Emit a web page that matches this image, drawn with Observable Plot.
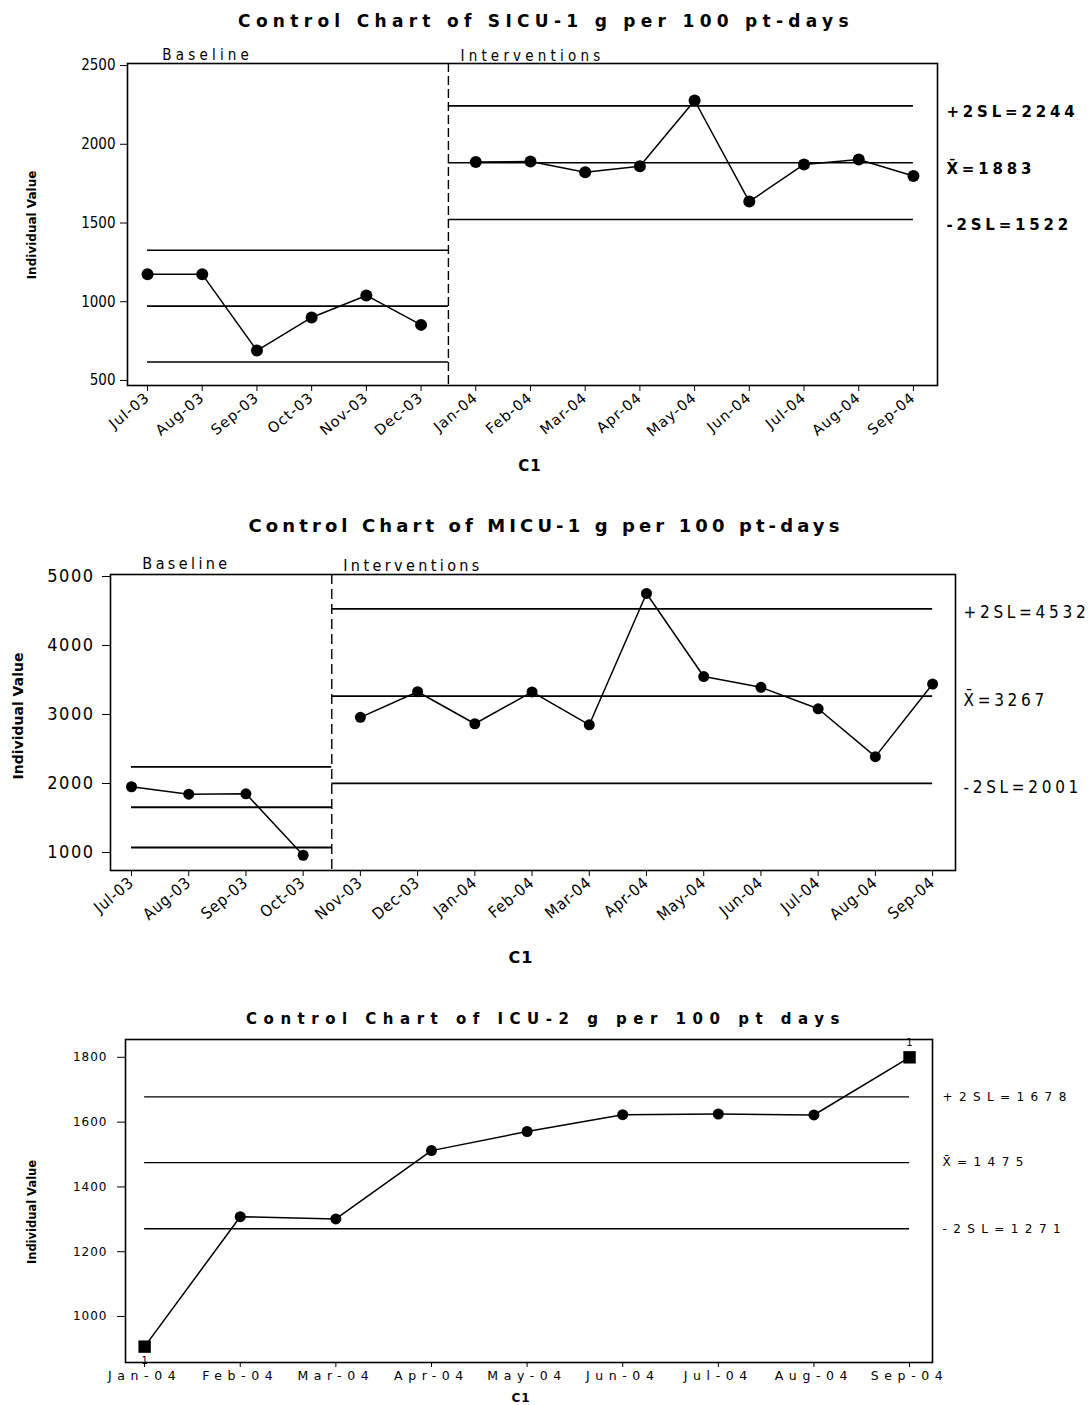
<!DOCTYPE html>
<html><head><meta charset="utf-8">
<script src="https://cdn.jsdelivr.net/npm/d3@7"></script>
<script src="https://cdn.jsdelivr.net/npm/@observablehq/plot@0.6"></script>
<style>
body{margin:0;background:#fff;}
#root{position:relative;width:1092px;height:1405px;overflow:hidden;font-family:"DejaVu Sans",sans-serif;color:#000;}
.title{position:absolute;left:0;width:1092px;text-align:center;font-weight:bold;white-space:nowrap;}
.chart{position:absolute;left:0;top:0;}
</style></head><body><div id="root"></div><script>
// ---------- DATA ----------
// Chart 1: SICU-1
const sicuMonths = ["Jul-03","Aug-03","Sep-03","Oct-03","Nov-03","Dec-03","Jan-04","Feb-04","Mar-04","Apr-04","May-04","Jun-04","Jul-04","Aug-04","Sep-04"];
const sicuValues = [1175,1174,690,900,1040,853,1888,1890,1822,1860,2278,1636,1872,1903,1799];
const sicuPhases = ["Baseline","Baseline","Baseline","Baseline","Baseline","Baseline","Interventions","Interventions","Interventions","Interventions","Interventions","Interventions","Interventions","Interventions","Interventions"];
const sicuBaselineLimits = [617, 972, 1327];        // -2SL, mean, +2SL
const sicuInterventionLimits = [1522, 1883, 2244];  // -2SL, mean, +2SL
const sicuYTicks = [500,1000,1500,2000,2500];

// Chart 2: MICU-1
const micuMonths = ["Jul-03","Aug-03","Sep-03","Oct-03","Nov-03","Dec-03","Jan-04","Feb-04","Mar-04","Apr-04","May-04","Jun-04","Jul-04","Aug-04","Sep-04"];
const micuValues = [1953,1845,1851,960,2959,3330,2866,3327,2851,4754,3550,3394,3083,2389,3441];
const micuPhases = ["Baseline","Baseline","Baseline","Baseline","Interventions","Interventions","Interventions","Interventions","Interventions","Interventions","Interventions","Interventions","Interventions","Interventions","Interventions"];
const micuBaselineLimits = [1072, 1656, 2240];
const micuInterventionLimits = [2001, 3267, 4532];
const micuYTicks = [1000,2000,3000,4000,5000];

// Chart 3: ICU-2
const icuMonths = ["Jan-04","Feb-04","Mar-04","Apr-04","May-04","Jun-04","Jul-04","Aug-04","Sep-04"];
const icuValues = [907,1308,1301,1512,1571,1623,1625,1622,1800];
const icuLimits = [1271, 1475, 1678];
const icuYTicks = [1000,1200,1400,1600,1800];

// ---------- HELPERS ----------
const root = document.getElementById("root");
const FONT = '"DejaVu Sans", sans-serif';
const COND = '"DejaVu Sans Condensed", "DejaVu Sans", sans-serif';
const intFmt = d3.format("d");

function addTitle(text, top, size, spacing) {
  const d = document.createElement("div");
  d.className = "title";
  d.textContent = text;
  d.style.top = top + "px";
  d.style.fontSize = size + "px";
  d.style.letterSpacing = spacing + "px";
  root.appendChild(d);
}

function limitLabels(lim) {
  return [
    {y: lim[2], text: `+2SL=${lim[2]}`},
    {y: lim[1], text: `X\u0304=${lim[1]}`},
    {y: lim[0], text: `-2SL=${lim[0]}`}
  ];
}

function limitRules(lim, x1, x2) {
  return lim.map(y => ({y, x1, x2}));
}

function place(svg, top) {
  svg.classList.add("chart");
  svg.style.top = top + "px";
  root.appendChild(svg);
}

// letter-spacing for texts whose content is in the list
function spaceTexts(svg, strings, spacing) {
  const set = new Set(strings);
  d3.select(svg).selectAll("text").filter(function() { return set.has(this.textContent); })
    .attr("letter-spacing", spacing);
}

function styleGroup(svg, label, attrs) {
  const g = d3.select(svg).selectAll(`g[aria-label="${label}"]`);
  for (const [k, v] of Object.entries(attrs)) g.attr(k, v);
}

function addSvgText(svg, {x, y, text, size, weight = "normal", rotate = 0, anchor = "middle", spacing = 0, family = FONT}) {
  d3.select(svg).append("text")
    .attr("transform", `translate(${x},${y}) rotate(${rotate})`)
    .attr("text-anchor", anchor)
    .attr("dominant-baseline", "central")
    .attr("font-family", family)
    .attr("font-size", size)
    .attr("font-weight", weight)
    .attr("letter-spacing", spacing)
    .attr("fill", "#000")
    .text(text);
}

// ---------- CHART 1 ----------
{
  const rows = sicuMonths.map((m, i) => ({i, m, v: sicuValues[i], phase: sicuPhases[i]}));
  const split = sicuPhases.indexOf("Interventions") - 0.5;
  const last = sicuMonths.length - 1;
  const rules = [...limitRules(sicuBaselineLimits, 0, split), ...limitRules(sicuInterventionLimits, split, last)];
  const labels = limitLabels(sicuInterventionLimits);
  addTitle("Control Chart of SICU-1 g per 100 pt-days", 11, 17, 5.3);
  const top = 38, height = 442;
  const svg = Plot.plot({
    width: 1092, height,
    marginTop: 25, marginBottom: 95, marginLeft: 127, marginRight: 155,
    style: {fontFamily: FONT, color: "#000", background: "transparent", overflow: "visible"},
    x: {type: "linear", domain: [-0.366, last + 0.44]},
    y: {domain: [468, 2513]},
    marks: [
      Plot.frame({stroke: "#000", strokeWidth: 1.6}),
      Plot.axisY({ticks: sicuYTicks, tickFormat: intFmt, tickSize: 7, tickPadding: 5, fontSize: 15, fontFamily: COND, label: null}),
      Plot.axisX({ticks: d3.range(sicuMonths.length), tickFormat: i => sicuMonths[i], tickRotate: -40, tickSize: 6, tickPadding: 4, fontSize: 14.5, label: null}),
      Plot.ruleX([split], {stroke: "#000", strokeWidth: 1.4, strokeDasharray: "9,4"}),
      Plot.ruleY(rules, {y: "y", x1: "x1", x2: "x2", stroke: "#000", strokeWidth: 1.6}),
      Plot.line(rows, {x: "i", y: "v", z: "phase", stroke: "#000", strokeWidth: 1.5}),
      Plot.dot(rows, {x: "i", y: "v", r: 6, fill: "#000"}),
      Plot.text(["Baseline"], {x: 0.27, frameAnchor: "top", lineAnchor: "bottom", dy: -4, textAnchor: "start", fontSize: 15, fontFamily: COND}),
      Plot.text(["Interventions"], {x: split + 0.22, frameAnchor: "top", lineAnchor: "bottom", dy: -3, textAnchor: "start", fontSize: 15, fontFamily: COND}),
      Plot.text(labels, {y: "y", text: "text", frameAnchor: "right", dx: 9, dy: 6, textAnchor: "start", fontSize: 15, fontWeight: "bold"})
    ]
  });
  place(svg, top);
  spaceTexts(svg, ["Baseline", "Interventions"], 4.2);
  spaceTexts(svg, labels.map(d => d.text), 3.8);
  styleGroup(svg, "x-axis tick label", {"letter-spacing": 1});
  addSvgText(svg, {x: 32, y: 225 - top, text: "Individual Value", size: 12, weight: "bold", rotate: -90});
  addSvgText(svg, {x: 530, y: 466 - top, text: "C1", size: 15, weight: "bold", spacing: 1});
}

// ---------- CHART 2 ----------
{
  const rows = micuMonths.map((m, i) => ({i, m, v: micuValues[i], phase: micuPhases[i]}));
  const split = micuPhases.indexOf("Interventions") - 0.5;
  const last = micuMonths.length - 1;
  const rules = [...limitRules(micuBaselineLimits, 0, split), ...limitRules(micuInterventionLimits, split, last)];
  const labels = limitLabels(micuInterventionLimits);
  addTitle("Control Chart of MICU-1 g per 100 pt-days", 515, 18, 4.1);
  const top = 545, height = 430;
  const svg = Plot.plot({
    width: 1092, height,
    marginTop: 29, marginBottom: 105, marginLeft: 110, marginRight: 137,
    style: {fontFamily: FONT, color: "#000", background: "transparent", overflow: "visible"},
    x: {type: "linear", domain: [-0.367, last + 0.40]},
    y: {domain: [739, 5029]},
    marks: [
      Plot.frame({stroke: "#000", strokeWidth: 1.6}),
      Plot.axisY({ticks: micuYTicks, tickFormat: intFmt, tickSize: 8, tickPadding: 8, fontSize: 18, fontFamily: COND, label: null}),
      Plot.axisX({ticks: d3.range(micuMonths.length), tickFormat: i => micuMonths[i], tickRotate: -40, tickSize: 6, tickPadding: 4, fontSize: 16, fontFamily: COND, label: null}),
      Plot.ruleX([split], {stroke: "#000", strokeWidth: 1.4, strokeDasharray: "10,5"}),
      Plot.ruleY(rules, {y: "y", x1: "x1", x2: "x2", stroke: "#000", strokeWidth: 1.8}),
      Plot.line(rows, {x: "i", y: "v", z: "phase", stroke: "#000", strokeWidth: 1.5}),
      Plot.dot(rows, {x: "i", y: "v", r: 5.5, fill: "#000"}),
      Plot.text(["Baseline"], {x: 0.19, frameAnchor: "top", lineAnchor: "bottom", dy: -6, textAnchor: "start", fontSize: 16, fontFamily: COND}),
      Plot.text(["Interventions"], {x: split + 0.2, frameAnchor: "top", lineAnchor: "bottom", dy: -4, textAnchor: "start", fontSize: 16, fontFamily: COND}),
      Plot.text(labels, {y: "y", text: "text", frameAnchor: "right", dx: 8, dy: 4, textAnchor: "start", fontSize: 17, fontFamily: COND})
    ]
  });
  place(svg, top);
  spaceTexts(svg, ["Baseline", "Interventions"], 3.4);
  spaceTexts(svg, labels.map(d => d.text), 3.7);
  styleGroup(svg, "x-axis tick label", {"letter-spacing": 0.8});
  styleGroup(svg, "y-axis tick label", {"letter-spacing": 1.5});
  addSvgText(svg, {x: 18, y: 716 - top, text: "Individual Value", size: 14, weight: "bold", rotate: -90});
  addSvgText(svg, {x: 521, y: 957 - top, text: "C1", size: 16, weight: "bold", spacing: 1});
}

// ---------- CHART 3 ----------
{
  const [lcl, cl, ucl] = icuLimits;
  const rows = icuMonths.map((m, i) => ({i, m, v: icuValues[i], fail: icuValues[i] > ucl || icuValues[i] < lcl}));
  const last = icuMonths.length - 1;
  const rules = limitRules(icuLimits, 0, last);
  const labels = limitLabels(icuLimits);
  addTitle("Control Chart of ICU-2 g per 100 pt days", 1010, 15, 6.5);
  const top = 1032, height = 373;
  const svg = Plot.plot({
    width: 1092, height,
    marginTop: 7, marginBottom: 43, marginLeft: 125, marginRight: 160,
    style: {fontFamily: FONT, color: "#000", background: "transparent", overflow: "visible"},
    x: {type: "linear", domain: [-0.2, last + 0.24]},
    y: {domain: [858, 1855]},
    marks: [
      Plot.frame({stroke: "#000", strokeWidth: 1.6}),
      Plot.axisY({ticks: icuYTicks, tickFormat: intFmt, tickSize: 8, tickPadding: 10, fontSize: 12, label: null}),
      Plot.axisX({ticks: d3.range(icuMonths.length), tickFormat: i => icuMonths[i], tickSize: 5, tickPadding: 4, fontSize: 12.5, label: null}),
      Plot.ruleY(rules, {y: "y", x1: "x1", x2: "x2", stroke: "#000", strokeWidth: 1.4}),
      Plot.line(rows, {x: "i", y: "v", stroke: "#000", strokeWidth: 1.5}),
      Plot.dot(rows.filter(d => !d.fail), {x: "i", y: "v", r: 5.5, fill: "#000"}),
      Plot.dot(rows.filter(d => d.fail), {x: "i", y: "v", r: 7, symbol: "square", fill: "#000"}),
      Plot.text(rows.filter(d => d.fail && d.v > ucl), {x: "i", y: "v", text: () => "1", fontSize: 10, dy: -15}),
      Plot.text(rows.filter(d => d.fail && d.v < lcl), {x: "i", y: "v", text: () => "1", fontSize: 10, dy: 14}),
      Plot.text(labels, {y: "y", text: "text", frameAnchor: "right", dx: 10, textAnchor: "start", fontSize: 12})
    ]
  });
  place(svg, top);
  spaceTexts(svg, labels.map(d => d.text), 6.4);
  styleGroup(svg, "x-axis tick label", {"letter-spacing": 5.6});
  styleGroup(svg, "y-axis tick label", {"letter-spacing": 1});
  addSvgText(svg, {x: 32, y: 1212 - top, text: "Individual Value", size: 11.5, weight: "bold", rotate: -90});
  addSvgText(svg, {x: 521, y: 1398 - top, text: "C1", size: 12, weight: "bold", spacing: 1});
}
</script></body></html>
